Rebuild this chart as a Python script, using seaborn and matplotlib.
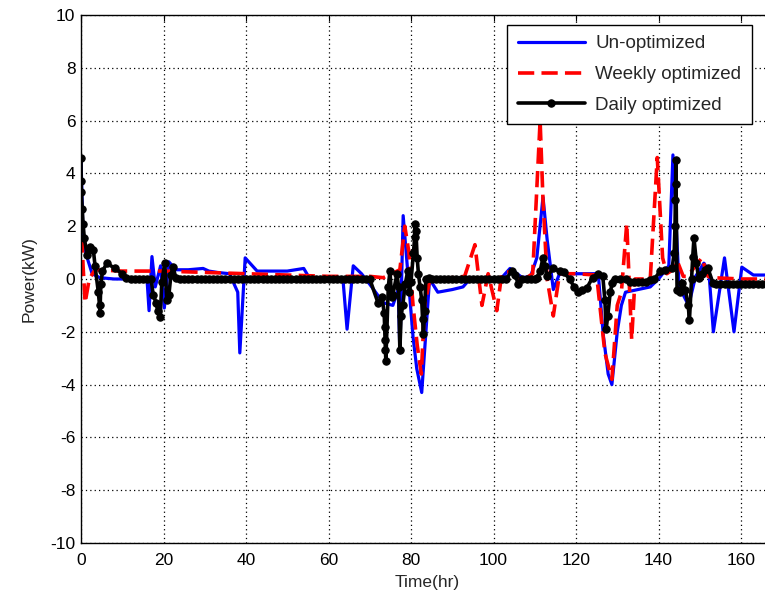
import numpy as np
import pandas as pd
import matplotlib
matplotlib.use("Agg")
import matplotlib.pyplot as plt
import seaborn as sns

# ---------------- data ----------------
unopt_t = [0, 0.5, 1, 1.7, 2.7, 4.6, 8, 12, 16, 16.5, 17.2, 18, 19.3, 20.2, 21.3, 23, 26, 29.6, 31, 33, 36, 38, 38.5,
           39.8, 42.7, 46, 50, 54, 55.5, 58, 62, 63.5, 64.5, 66, 68, 70, 73.3, 75.6, 76.9, 77.3, 78.1, 80.5, 81.4,
           82.6, 84.5, 86.5, 90, 92.6, 94.3, 98, 102, 104, 107, 109, 110.5, 112, 113, 114.5, 116, 120, 124, 125.4,
           126.6, 127.8, 128.7, 130, 131, 132, 135, 138, 140, 142.5, 143.5, 145, 147.3, 149, 151, 152.2, 153.3,
           156, 158.3, 160.2, 163, 168]
unopt_v = [4.6, 1.5, 1.1, 0.7, 0.2, 0.05, 0, 0, 0, -1.2, 0.85, -0.3, 0.5, -1.1, 0.65, 0.35, 0.35, 0.4, 0.3, 0.25,
           0.2, -0.5, -2.8, 0.8, 0.3, 0.3, 0.3, 0.4, 0, 0, 0, 0, -1.9, 0.5, 0.2, -0.2, -0.9, -1.0, -0.4, -2.8, 2.4,
           -2.2, -3.4, -4.3, 0, -0.5, -0.4, -0.3, 0, 0, 0.05, 0.4, 0.05, 0.1, 0.8, 3.1, 1.5, -0.4, 0.2, 0.2, 0.2,
           0.2, -2.1, -3.6, -4.0, -2.0, -1.0, -0.5, -0.4, -0.3, 0, 0.5, 4.7, -0.3, -1.0, 0.1, 0.6, 0.3, -2.0,
           0.8, -2.0, 0.45, 0.15, 0.15]

weekly_t = [0, 0.5, 1, 2, 3.4, 10, 20, 30, 40, 50, 60, 70, 73.3, 77.3, 78.5, 79.5, 80.5, 81.5, 82.5, 83.3, 84.6, 90,
            93, 95.5, 97.2, 98.7, 100.8, 102, 104.5, 106, 108, 109.5, 111.3, 112, 113, 114.5, 116, 120, 125, 127,
            128.7, 130, 131, 132.3, 133.5, 134.3, 137, 138, 139.7, 141, 142, 143, 144.5, 146, 147, 148, 150.5, 152,
            153, 160, 168]
weekly_v = [2.5, 0.5, -0.9, 0, 0.35, 0.3, 0.3, 0.25, 0.2, 0.15, 0.1, 0.1, 0.05, 0.35, 2.0, 1.0, -1.0, -2.5, -3.6,
            -1.0, 0, 0.05, 0.1, 1.3, -1.0, 0.2, -1.2, 0.2, 0.3, 0, 0.05, 0.2, 6.0, 3.0, 0, -1.4, 0.2, 0.2, 0.15,
            -2.8, -3.8, -1.0, -0.5, 2.1, -2.3, 0, 0, 0, 4.6, 0.8, 0.2, 0.3, 0.7, 0.1, 0.1, 0.3, 0.8, 0.1, 0.05, 0, 0]

daily_t = ([0, 0.05, 0.1, 0.3, 0.5, 0.8, 1.5, 2.2, 3, 3.4, 4.2, 4.5, 4.6, 4.8, 5.2, 6.3, 8.2, 10, 11, 12, 13, 14, 15,
            16, 17, 17.5, 18.2, 18.6, 19.2, 19.6, 20.3, 20.8, 21.3, 21.8, 22.3, 23]
           + list(range(24, 71))
           + [72, 73, 73.5, 73.6, 73.7, 73.8, 73.9, 74.5, 74.9, 75.3, 75.6, 76.6, 77, 77.3, 77.6, 78, 78.6, 79.2,
              79.6, 80, 80.6, 80.9, 81, 81.2, 81.5, 81.8, 82.2, 82.6, 82.8, 83, 83.3, 83.6, 84.3]
           + list(range(85, 104))
           + [104.5, 105.3, 106, 107, 108, 109, 110, 110.5, 111.3, 112, 112.5, 113, 114.5, 116, 117, 118.5, 119.5,
              120.5, 121.5, 122.6, 124, 125.4, 126.5, 127, 127.3, 127.7, 128.3, 128.8, 129.5, 130.7, 132, 133, 134,
              135, 136, 137, 138, 139, 140.4, 141.6, 143.3, 143.8, 144, 144.1, 144.15, 144.2, 144.5, 145.2, 145.7,
              146.5, 147.2, 147.5, 148, 148.3, 148.6, 149.2, 149.7, 150.5, 151.3, 152, 153.2]
           + list(range(154, 169)))
daily_v = ([4.6, 3.7, 3.3, 2.65, 2.1, 1.55, 0.9, 1.2, 1.1, 0.5, -0.5, -1.0, -1.3, -0.2, 0.3, 0.6, 0.4, 0.2, 0.05, 0,
            0, 0, 0, 0, 0, -0.6, -0.9, -1.2, -1.45, -0.1, 0.6, -0.8, -0.6, 0.15, 0.45, 0.05]
           + [0] * 47
           + [-0.9, -0.7, -1.3, -1.8, -2.3, -2.7, -3.1, -0.3, 0.3, -0.7, -0.6, 0.2, -0.3, -2.7, -1.4, -1.0, -0.2,
              0.3, -0.5, -0.1, 1.0, 1.6, 2.1, 1.8, 0.8, 0.2, -0.3, -0.8, -1.5, -2.1, -1.2, 0, 0.05]
           + [0] * 19
           + [0.3, 0.15, -0.2, 0, 0, 0, 0, 0.05, 0.3, 0.8, 0.5, 0.1, 0.4, 0.3, 0.25, 0, -0.3, -0.5, -0.4, -0.35,
              0.05, 0.2, 0.1, -0.8, -1.9, -1.4, -0.5, -0.15, 0, 0, 0, -0.1, -0.1, -0.1, -0.1, -0.1, -0.05, 0, 0.3,
              0.35, 0.4, 1.0, 2.0, 3.0, 3.6, 4.5, -0.4, -0.5, -0.15, -0.4, -1.0, -1.55, 0, 0.85, 1.55, 0.6, 0.05,
              0.2, 0.35, 0.4, -0.15]
           + [-0.2] * 15)

x_ticks = list(range(0, 161, 20))
y_ticks = list(range(-10, 11, 2))

df_u = pd.DataFrame({"t": unopt_t, "p": unopt_v})
df_w = pd.DataFrame({"t": weekly_t, "p": weekly_v})
df_d = pd.DataFrame({"t": daily_t, "p": daily_v})

# ---------------- style ----------------
sns.set_style("white")
plt.rcParams["font.family"] = ["Liberation Sans", "DejaVu Sans"]
plt.rcParams["axes.unicode_minus"] = False

W, H = 765, 603
fig = plt.figure(figsize=(W / 100, H / 100), dpi=100)
left, right, top, bottom = 81, 774, 15, 543
ax = fig.add_axes([left / W, (H - bottom) / H, (right - left) / W, (bottom - top) / H])

sns.lineplot(data=df_u, x="t", y="p", ax=ax, color="#0000ff", lw=2.3, sort=False, estimator=None,
             label="Un-optimized")
sns.lineplot(data=df_w, x="t", y="p", ax=ax, color="#ff0000", lw=2.6, sort=False, estimator=None,
             label="Weekly optimized")
sns.lineplot(data=df_d, x="t", y="p", ax=ax, color="black", lw=2.6, sort=False, estimator=None,
             marker="o", markersize=5.3, markeredgecolor="black", label="Daily optimized")
ax.lines[1].set_linestyle((0, (4.5, 2)))

ax.set_xlim(0, 168)
ax.set_ylim(-10, 10)
ax.set_xticks(x_ticks)
ax.set_yticks(y_ticks)
ax.tick_params(direction="in", length=4, width=0.8, labelsize=12.5, top=True, right=True, colors="black")
ax.tick_params(axis="x", pad=7)
ax.tick_params(axis="y", pad=4)
ax.grid(True, color="black", linestyle=(0, (1, 2.5)), linewidth=0.9)
for s in ax.spines.values():
    s.set_color("black")
    s.set_linewidth(1.0)

ax.set_xlabel("Time(hr)", fontsize=12.5, labelpad=5)
ax.set_ylabel("Power(kW)", fontsize=12.5, labelpad=10)

leg = ax.legend(loc="upper left", bbox_to_anchor=(0.615, 0.981), fontsize=13.5, frameon=True, fancybox=False,
                edgecolor="black", framealpha=1, handlelength=3.6, borderpad=0.55, labelspacing=0.72,
                handletextpad=0.55, borderaxespad=0)
leg.get_frame().set_linewidth(1.0)

fig.savefig("out.png", dpi=100)
